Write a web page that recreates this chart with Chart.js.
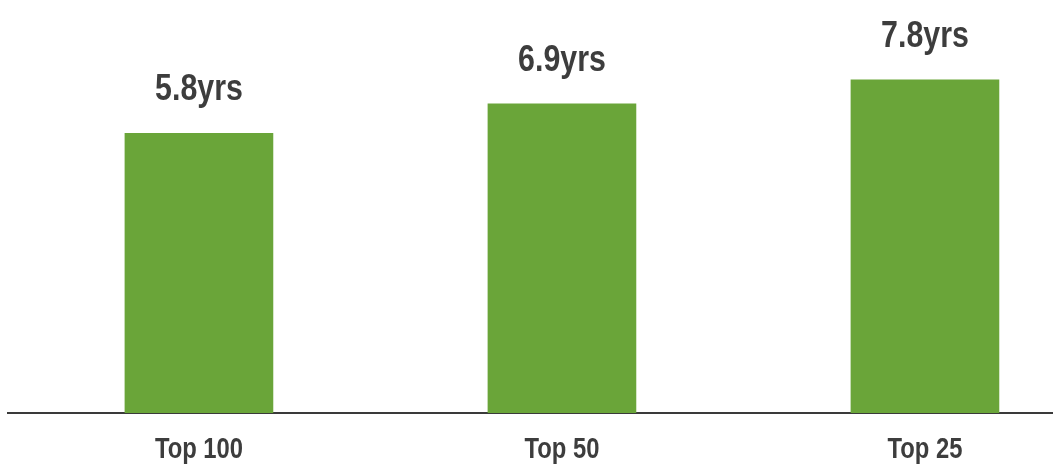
<!DOCTYPE html>
<html>
<head>
<meta charset="utf-8">
<script src="https://cdn.jsdelivr.net/npm/chart.js@4.4.1/dist/chart.umd.min.js"></script>
<style>
  html, body { margin: 0; padding: 0; background: #ffffff; overflow: hidden; }
  #wrap { width: 1057px; height: 475px; position: relative; }
</style>
</head>
<body>
<div id="wrap"><canvas id="c" width="1057" height="475"></canvas></div>
<script>
// ---- data ----
const categories = ["Top 100", "Top 50", "Top 25"];
const tenureYears = [5.8, 6.9, 7.8];
const valueSuffix = "yrs";

// ---- scale settings ----
const yMin = -4.656;
const yMax = 10.783;
const xMin = -0.526;
const xMax = 2.35;

const FONT = '"Liberation Sans", Arial, sans-serif';
const TEXT = '#3d3d3d';
const GREEN = '#6aa539';
const NARROW = 0.82; // condensed face emulation

function drawCondensed(ctx, text, x, y, font) {
  ctx.save();
  ctx.translate(x, y);
  ctx.scale(NARROW, 1);
  ctx.font = font;
  ctx.fillStyle = TEXT;
  ctx.textAlign = 'center';
  ctx.textBaseline = 'alphabetic';
  ctx.fillText(text, 0, 0);
  ctx.restore();
}

const condensedText = {
  id: 'condensedText',
  afterDraw(chart) {
    const ctx = chart.ctx;
    const meta = chart.getDatasetMeta(0);
    meta.data.forEach((bar, i) => {
      drawCondensed(ctx, tenureYears[i].toFixed(1) + valueSuffix, bar.x, bar.y - 33, 'bold 37px ' + FONT);
    });
    const xs = chart.scales.x;
    categories.forEach((c, i) => {
      drawCondensed(ctx, c, xs.getPixelForValue(i), xs.top + 45, 'bold 29px ' + FONT);
    });
  }
};

new Chart(document.getElementById('c'), {
  type: 'bar',
  data: {
    datasets: [{
      data: tenureYears.map((v, i) => ({ x: i, y: v })),
      backgroundColor: GREEN,
      borderWidth: 0,
      barThickness: 148,
      base: yMin
    }]
  },
  options: {
    responsive: false,
    animation: false,
    layout: { padding: { left: 8, right: 5, top: 0, bottom: 0 } },
    plugins: { legend: { display: false }, tooltip: { enabled: false } },
    scales: {
      x: {
        type: 'linear',
        offset: false,
        min: xMin,
        max: xMax,
        afterBuildTicks: s => { s.ticks = categories.map((c, i) => ({ value: i })); },
        afterFit: s => { s.height = 62; },
        grid: { display: false, drawTicks: false },
        border: { display: true, color: '#3a3a3a', width: 2 },
        ticks: { display: false }
      },
      y: {
        display: false,
        min: yMin,
        max: yMax
      }
    }
  },
  plugins: [condensedText]
});
</script>
</body>
</html>
